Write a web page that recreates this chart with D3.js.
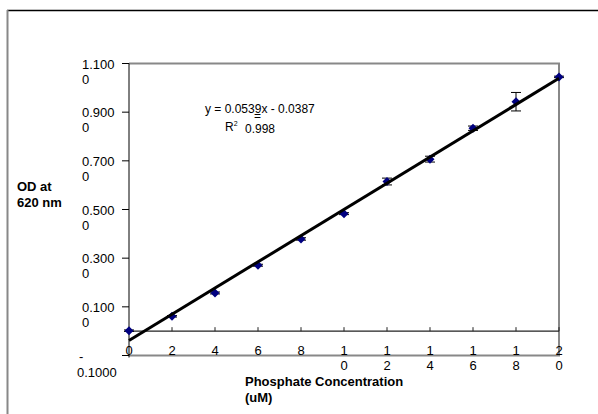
<!DOCTYPE html>
<html>
<head>
<meta charset="utf-8">
<title>Phosphate standard curve</title>
<script src="https://d3js.org/d3.v7.min.js"></script>
<style>
body { margin: 0; background: #fff; }
text { font-family: Arial, "Liberation Sans", sans-serif; fill: #000; }
.tick-label { font-size: 13px; }
.title { font-size: 13px; font-weight: bold; }
.eq { font-size: 12px; }
</style>
</head>
<body>
<script>
// standard curve: phosphate concentration vs OD at 620 nm
var conc = [0, 2, 4, 6, 8, 10, 12, 14, 16, 18, 20];
var od = [0.002, 0.061, 0.157, 0.271, 0.379, 0.483, 0.615, 0.707, 0.834, 0.943, 1.045];
var odErr = [0.003, 0.003, 0.004, 0.004, 0.005, 0.004, 0.014, 0.012, 0.009, 0.038, 0.003];
var yTicks = [1.1, 0.9, 0.7, 0.5, 0.3, 0.1, -0.1];
var xTicks = [0, 2, 4, 6, 8, 10, 12, 14, 16, 18, 20];
var slope = 0.0539, intercept = -0.0387, r2 = 0.998;

var width = 598, height = 414;

var svg = d3.select("body").append("svg")
    .attr("width", width)
    .attr("height", height);

// chart area edges
svg.append("line").attr("x1", 7).attr("x2", width).attr("y1", 10.5).attr("y2", 10.5)
    .attr("stroke", "#000").attr("stroke-width", 1.5);
svg.append("line").attr("x1", 7.5).attr("x2", 7.5).attr("y1", 10).attr("y2", height)
    .attr("stroke", "#888").attr("stroke-width", 2);

var x = d3.scaleLinear().domain([0, 20]).range([129, 559]);
var y = d3.scaleLinear().domain([-0.1, 1.1]).range([355.5, 63.5]);

// plot area border (gray)
svg.append("path")
    .attr("d", "M" + x(0) + "," + y(1.1) + "H" + x(20) + "V" + y(-0.1) + "H" + x(0))
    .attr("fill", "none")
    .attr("stroke", "#888")
    .attr("stroke-width", 2);

// y axis
svg.append("line").attr("x1", x(0)).attr("x2", x(0)).attr("y1", y(1.1)).attr("y2", y(-0.1) + 2)
    .attr("stroke", "#000");
svg.selectAll(".ytick").data(yTicks).enter().append("line")
    .attr("x1", x(0) - 7).attr("x2", x(0))
    .attr("y1", function(d) { return y(d); })
    .attr("y2", function(d) { return y(d); })
    .attr("stroke", "#000");

var yl = svg.selectAll(".ylab").data(yTicks).enter().append("text")
    .attr("class", "tick-label");
yl.each(function(d) {
  var s = d3.format(".4f")(d);
  var t = d3.select(this);
  if (d < 0) {
    t.append("tspan").attr("x", 79).attr("y", y(d) + 5).text("-");
    t.append("tspan").attr("x", 77).attr("y", y(d) + 21).text(s.slice(1));
  } else {
    t.append("tspan").attr("x", 82).attr("y", y(d) + 5).text(s.slice(0, 5));
    t.append("tspan").attr("x", 82).attr("y", y(d) + 20).text(s.slice(5));
  }
});

// x axis at y = 0
svg.append("line").attr("x1", x(0)).attr("x2", x(20)).attr("y1", y(0)).attr("y2", y(0))
    .attr("stroke", "#222").attr("stroke-width", 1.2);
svg.selectAll(".xtick").data(xTicks.slice(1)).enter().append("line")
    .attr("x1", function(d) { return x(d); })
    .attr("x2", function(d) { return x(d); })
    .attr("y1", y(0) - 4).attr("y2", y(0))
    .attr("stroke", "#222");

var xl = svg.selectAll(".xlab").data(xTicks).enter().append("text")
    .attr("class", "tick-label")
    .attr("text-anchor", "middle");
xl.each(function(d) {
  var s = String(d);
  var t = d3.select(this);
  t.append("tspan").attr("x", x(d)).attr("y", y(0) + 24).text(s.charAt(0));
  if (s.length > 1)
    t.append("tspan").attr("x", x(d)).attr("y", y(0) + 39).text(s.slice(1));
});

// axis titles
var yt = svg.append("text").attr("class", "title");
yt.append("tspan").attr("x", 17).attr("y", 191).text("OD at");
yt.append("tspan").attr("x", 17).attr("y", 207).text("620 nm");

var xt = svg.append("text").attr("class", "title");
xt.append("tspan").attr("x", 245).attr("y", 386).text("Phosphate Concentration");
xt.append("tspan").attr("x", 245).attr("y", 402).text("(uM)");

// error bars
var eb = svg.selectAll(".err").data(conc).enter().append("g")
    .attr("stroke", "#000").attr("stroke-width", 1);
eb.append("line")
    .attr("x1", function(d) { return x(d); })
    .attr("x2", function(d) { return x(d); })
    .attr("y1", function(d, i) { return y(od[i] + odErr[i]); })
    .attr("y2", function(d, i) { return y(od[i] - odErr[i]); });
eb.append("line")
    .attr("x1", function(d) { return x(d) - 5; })
    .attr("x2", function(d) { return x(d) + 5; })
    .attr("y1", function(d, i) { return y(od[i] + odErr[i]); })
    .attr("y2", function(d, i) { return y(od[i] + odErr[i]); });
eb.append("line")
    .attr("x1", function(d) { return x(d) - 5; })
    .attr("x2", function(d) { return x(d) + 5; })
    .attr("y1", function(d, i) { return y(od[i] - odErr[i]); })
    .attr("y2", function(d, i) { return y(od[i] - odErr[i]); });

// markers
svg.selectAll(".pt").data(conc).enter().append("path")
    .attr("d", "M0,-4.5L4.5,0L0,4.5L-4.5,0Z")
    .attr("transform", function(d, i) { return "translate(" + x(d) + "," + y(od[i]) + ")"; })
    .attr("fill", "#000080");

// linear trendline
svg.append("line")
    .attr("x1", x(0)).attr("y1", y(intercept))
    .attr("x2", x(20)).attr("y2", y(intercept + slope * 20))
    .attr("stroke", "#000")
    .attr("stroke-width", 3);

// equation (the "=" of the R² line sits under the equation, as in the original)
svg.append("text").attr("class", "eq").attr("x", 205).attr("y", 113)
    .text("y = " + slope + "x - " + Math.abs(intercept));
var rt = svg.append("text").attr("class", "eq").attr("x", 225).attr("y", 131);
rt.append("tspan").text("R");
rt.append("tspan").attr("dy", -5).attr("font-size", 7).text("2");
svg.append("text").attr("class", "eq").attr("x", 245).attr("y", 133).text(r2);
svg.append("text").attr("class", "eq").attr("x", 254).attr("y", 120).text("=");
</script>
</body>
</html>
